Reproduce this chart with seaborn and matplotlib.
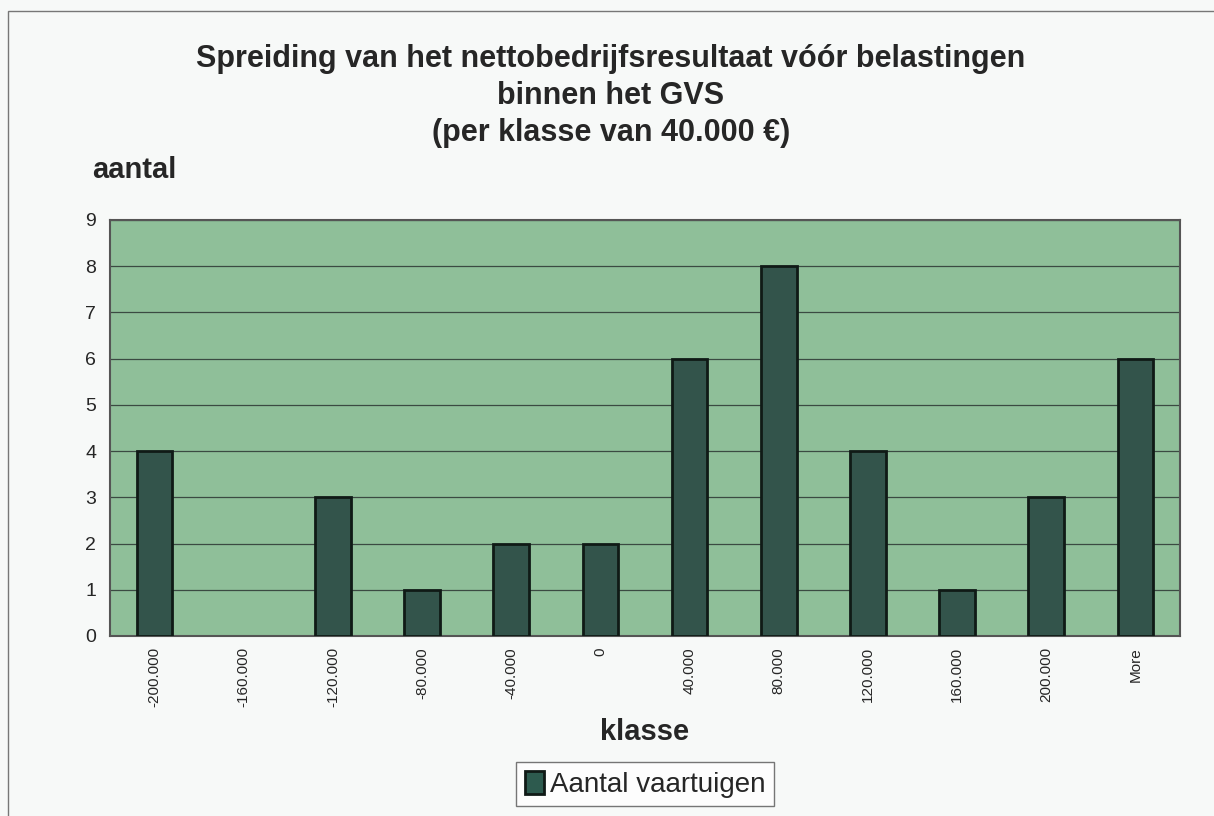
import matplotlib
matplotlib.use("Agg")
import matplotlib.pyplot as plt
from matplotlib.patches import Patch
import seaborn as sns
import pandas as pd

# data
klasse = ["-200.000", "-160.000", "-120.000", "-80.000", "-40.000", "0",
          "40.000", "80.000", "120.000", "160.000", "200.000", "More"]
aantal = [4, 0, 3, 1, 2, 2, 6, 8, 4, 1, 3, 6]
series = "Aantal vaartuigen"
bar_color = "#2d5a4e"

df = pd.DataFrame({"klasse": klasse, "aantal": aantal, "serie": series})

sns.set_style("white")
plt.rcParams["font.family"] = ["Liberation Sans", "DejaVu Sans"]

fig = plt.figure(figsize=(12.14, 8.16), dpi=100)
fig.patch.set_facecolor("#f7f9f8")
ax = fig.add_axes([0.0906, 0.2206, 0.8814, 0.5098])
ax.set_facecolor("#8fbf99")

sns.barplot(data=df, x="klasse", y="aantal", color=bar_color,
            width=0.4, edgecolor="#101a16", linewidth=2, ax=ax, zorder=3)

# empty classes have no visible bar
for p in ax.patches:
    if p.get_height() == 0:
        p.set_visible(False)

ax.set_ylim(0, 9)
ax.set_xlim(-0.5, len(klasse) - 0.5)
ax.set_yticks(range(0, 10))
ax.yaxis.grid(True, color="#3b4a42", linewidth=0.9, zorder=0)
ax.set_axisbelow(True)
for s in ax.spines.values():
    s.set_color("#555555")
    s.set_linewidth(1.5)

# ticks between categories like Excel
ax.set_xticks(range(len(klasse)))
ax.set_xticklabels(klasse, rotation=90, fontsize=11)
ax.set_xticks([i + 0.5 for i in range(-1, len(klasse))], minor=True)
ax.tick_params(axis="x", which="major", length=0, pad=8)
ax.tick_params(axis="x", which="minor", length=6, width=1.2, color="#555555", direction="out")
ax.tick_params(axis="y", length=6, width=1.2, color="#555555", direction="out", labelsize=14, pad=4)

ax.set_xlabel("klasse", fontsize=21, fontweight="bold", labelpad=8)
ax.set_ylabel("")
fig.text(0.076, 0.782, "aantal", fontsize=21, fontweight="bold", ha="left")

fig.text(0.503, 0.882,
         "Spreiding van het nettobedrijfsresultaat vóór belastingen\nbinnen het GVS\n(per klasse van 40.000 €)",
         ha="center", va="center", fontsize=22, fontweight="bold", linespacing=1.3)

handle = Patch(facecolor=bar_color, edgecolor="#101a16", linewidth=2)
ax.legend([handle], [series], loc="upper center", bbox_to_anchor=(0.5, -0.27),
          fontsize=20, frameon=True, fancybox=False, edgecolor="#555555",
          handlelength=0.7, handleheight=0.9, handletextpad=0.2, borderpad=0.3)

# outer chart frame (runs off the right and bottom edge)
frame = plt.Rectangle((0.007, -0.05), 1.05, 1.036, transform=fig.transFigure,
                      fill=False, edgecolor="#777777", linewidth=1)
fig.add_artist(frame)

fig.savefig("out.png", dpi=100, facecolor=fig.get_facecolor())
